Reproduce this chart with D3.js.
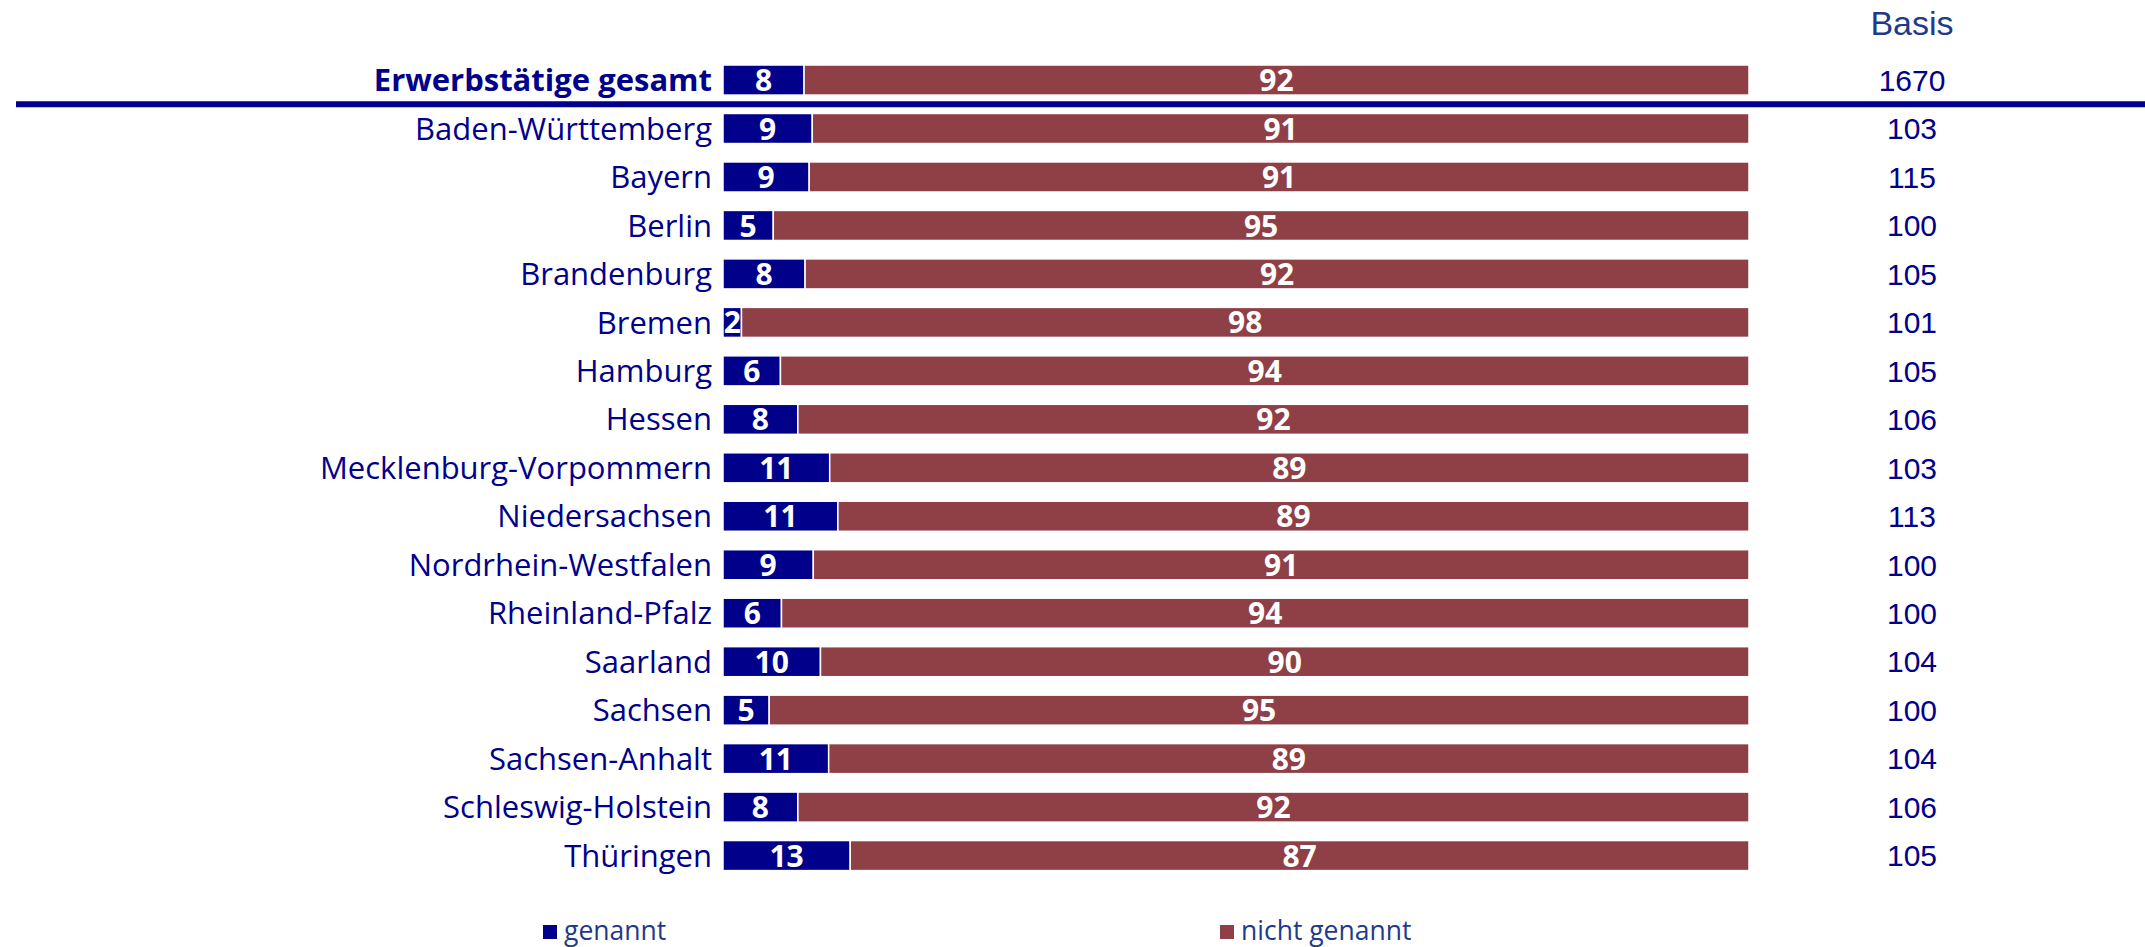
<!DOCTYPE html>
<html>
<head>
<meta charset="utf-8">
<script src="https://cdn.jsdelivr.net/npm/d3@7"></script>
<style>
  html, body { margin: 0; padding: 0; background: #fff; }
  svg { display: block; }
</style>
</head>
<body>
<svg id="chart" width="2145" height="947"></svg>
<script>
// ---- data ----
const categories = ["Erwerbstätige gesamt", "Baden-Württemberg", "Bayern", "Berlin", "Brandenburg", "Bremen",
  "Hamburg", "Hessen", "Mecklenburg-Vorpommern", "Niedersachsen", "Nordrhein-Westfalen", "Rheinland-Pfalz",
  "Saarland", "Sachsen", "Sachsen-Anhalt", "Schleswig-Holstein", "Thüringen"];
// share "genannt" in %
const genannt = [7.9, 8.7, 8.4, 4.9, 8.0, 1.8, 5.6, 7.3, 10.4, 11.2, 8.8, 5.7, 9.5, 4.5, 10.3, 7.3, 12.4];
// share "nicht genannt" in %
const nichtGenannt = genannt.map(v => 100 - v);
// printed labels
const genanntLabels = [8, 9, 9, 5, 8, 2, 6, 8, 11, 11, 9, 6, 10, 5, 11, 8, 13];
const nichtGenanntLabels = [92, 91, 91, 95, 92, 98, 94, 92, 89, 89, 91, 94, 90, 95, 89, 92, 87];
const basis = [1670, 103, 115, 100, 105, 101, 105, 106, 103, 113, 100, 100, 104, 100, 104, 106, 105];
const seriesNames = ["genannt", "nicht genannt"];

// ---- styles ----
const colBlue = "#00008b";
const colRed = "#8f4046";
const textNavy = "#00008b";
const textLegend = "#1f3a8a";

const svg = d3.select("#chart");

const x = d3.scaleLinear().domain([0, 100]).range([723, 1749]);
const y = d3.scaleBand().domain(categories).range([55.8, 879.8]).paddingInner(0.38).paddingOuter(0.19);

const rows = categories.map((c, i) => ({
  cat: c,
  segs: [
    { key: seriesNames[0], x0: 0, x1: genannt[i], label: genanntLabels[i], color: colBlue },
    { key: seriesNames[1], x0: genannt[i], x1: genannt[i] + nichtGenannt[i], label: nichtGenanntLabels[i], color: colRed }
  ],
  basis: basis[i],
  bold: i === 0
}));

const g = svg.append("g");

const row = g.selectAll("g.row").data(rows).join("g").attr("class", "row");

row.selectAll("rect").data(d => d.segs.map(s => ({ ...s, cat: d.cat }))).join("rect")
  .attr("x", d => x(d.x0))
  .attr("y", d => y(d.cat))
  .attr("width", d => x(d.x1) - x(d.x0))
  .attr("height", y.bandwidth())
  .attr("fill", d => d.color)
  .attr("stroke", "#fff")
  .attr("stroke-width", 1.5);

row.selectAll("text.val").data(d => d.segs.map(s => ({ ...s, cat: d.cat }))).join("text")
  .attr("class", "val")
  .attr("x", d => (x(d.x0) + x(d.x1)) / 2)
  .attr("y", d => y(d.cat) + y.bandwidth() / 2)
  .attr("dy", "0.37em")
  .attr("text-anchor", "middle")
  .attr("fill", "#fff")
  .attr("font-family", "'Open Sans', sans-serif")
  .attr("font-weight", 700)
  .attr("font-size", 30)
  .text(d => d.label);

// category labels
row.append("text")
  .attr("x", 712)
  .attr("y", d => y(d.cat) + y.bandwidth() / 2)
  .attr("dy", "0.36em")
  .attr("text-anchor", "end")
  .attr("fill", textNavy)
  .attr("font-family", "'Open Sans', sans-serif")
  .attr("font-weight", d => d.bold ? 700 : 400)
  .attr("font-size", 31)
  .text(d => d.cat);

// basis numbers
row.append("text")
  .attr("x", 1912)
  .attr("y", d => y(d.cat) + y.bandwidth() / 2)
  .attr("dy", "0.36em")
  .attr("text-anchor", "middle")
  .attr("fill", textNavy)
  .attr("font-family", "'Liberation Sans', Arial, sans-serif")
  .attr("font-size", 30)
  .text(d => d.basis);

// header
svg.append("text")
  .attr("x", 1912).attr("y", 35)
  .attr("text-anchor", "middle")
  .attr("fill", textLegend)
  .attr("font-family", "'Liberation Sans', Arial, sans-serif")
  .attr("font-size", 34)
  .text("Basis");

// separator line below total
const sepY = (y(categories[0]) + y.bandwidth() + y(categories[1])) / 2;
svg.append("line")
  .attr("x1", 16).attr("x2", 2145)
  .attr("y1", sepY).attr("y2", sepY)
  .attr("stroke", colBlue)
  .attr("stroke-width", 6);

// legend
const legendX = [543, 1220];
const legendColors = [colBlue, colRed];
const leg = svg.selectAll("g.leg").data(seriesNames).join("g").attr("class", "leg")
  .attr("transform", (d, i) => `translate(${legendX[i]},925)`);
leg.append("rect").attr("width", 14).attr("height", 14).attr("fill", (d, i) => legendColors[i]);
leg.append("text")
  .attr("x", 21).attr("y", 15)
  .attr("fill", textLegend)
  .attr("font-family", "'Open Sans', sans-serif")
  .attr("font-size", 26.5)
  .text(d => d);
</script>
</body>
</html>
